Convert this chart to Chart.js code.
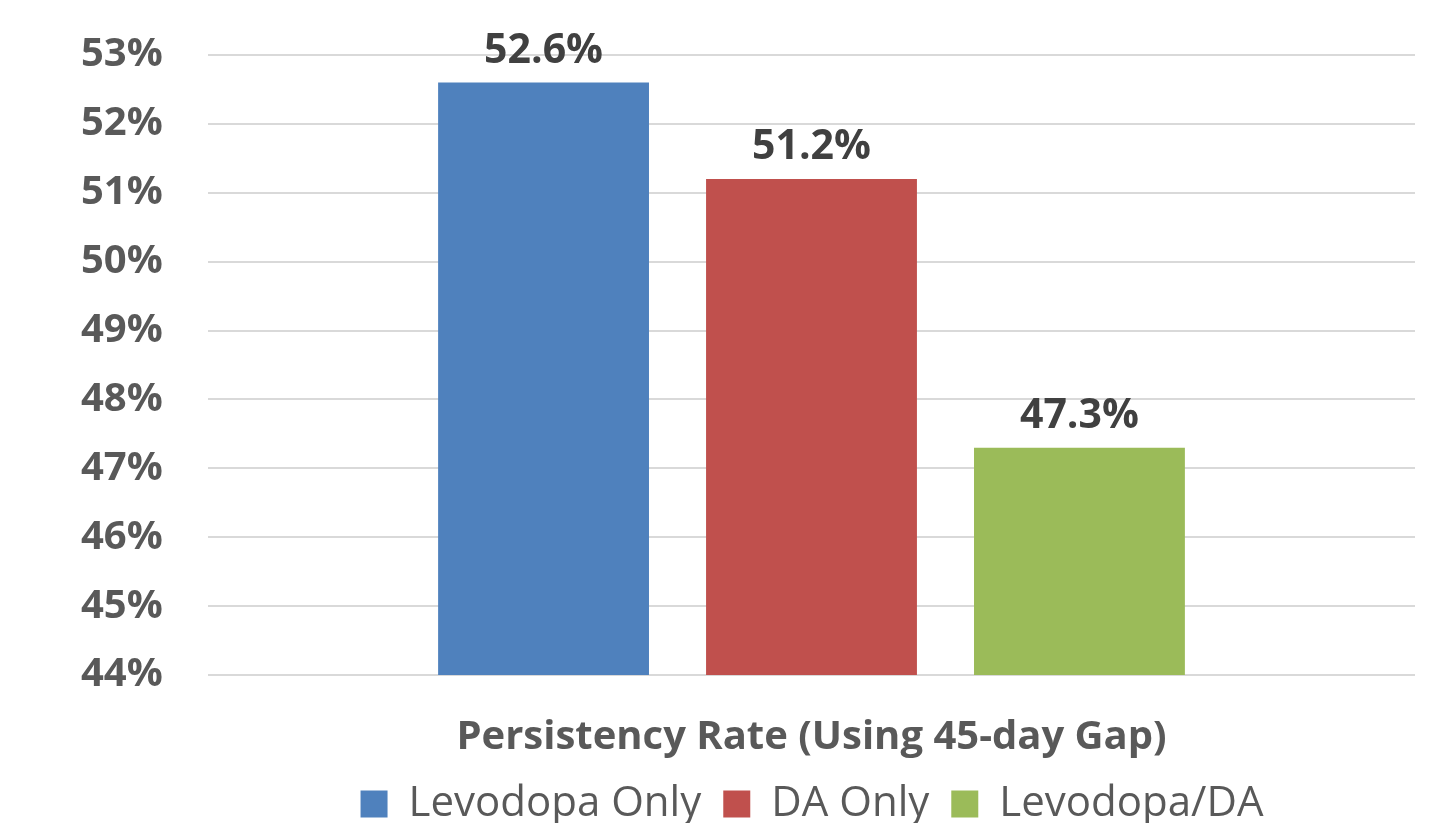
<!DOCTYPE html>
<html>
<head>
<meta charset="utf-8">
<script src="https://cdn.jsdelivr.net/npm/chart.js@4.4.1/dist/chart.umd.min.js"></script>
<style>
    html, body { margin: 0; padding: 0; background: #ffffff; }
    #wrap { width: 1444px; height: 823px; }
</style>
</head>
<body>
<div id="wrap"><canvas id="chart" width="1444" height="823"></canvas></div>
<script>
var categories = ['Persistency Rate (Using 45-day Gap)'];
var seriesNames = ['Levodopa Only', 'DA Only', 'Levodopa/DA'];
var levodopaOnly = [52.6];
var daOnly = [51.2];
var levodopaDa = [47.3];
var seriesColors = ['#4F81BD', '#C0504D', '#9BBB59'];

var FONT = "'Open Sans', 'DejaVu Sans', sans-serif";

// value labels above each bar
var barLabels = {
    id: 'barLabels',
    afterDatasetsDraw: function(chart) {
        var ctx = chart.ctx;
        ctx.save();
        ctx.font = 'bold 41px ' + FONT;
        ctx.fillStyle = '#404040';
        ctx.textAlign = 'center';
        ctx.textBaseline = 'bottom';
        chart.data.datasets.forEach(function(ds, i) {
            var meta = chart.getDatasetMeta(i);
            meta.data.forEach(function(bar, j) {
                ctx.fillText(ds.data[j].toFixed(1) + '%', bar.x, bar.y - 11);
            });
        });
        ctx.restore();
    }
};

// centre the legend under the plot area instead of the whole canvas
var legendSpan = {
    id: 'legendSpan',
    afterLayout: function(chart) {
        chart.legend.left = 180;
        chart.legend.right = 1444;
    }
};

var ctx = document.getElementById('chart');
var chart = new Chart(ctx, {
    type: 'bar',
    data: {
        labels: categories,
        datasets: [
            { label: seriesNames[0], data: levodopaOnly, backgroundColor: seriesColors[0] },
            { label: seriesNames[1], data: daOnly, backgroundColor: seriesColors[1] },
            { label: seriesNames[2], data: levodopaDa, backgroundColor: seriesColors[2] }
        ]
    },
    options: {
        responsive: false,
        animation: false,
        categoryPercentage: 0.666,
        barPercentage: 0.787,
        layout: { padding: { left: 81, right: 29, top: 55, bottom: -12 } },
        plugins: {
            tooltip: { enabled: false },
            legend: {
                position: 'bottom',
                labels: {
                    font: { family: FONT, size: 42 },
                    color: '#595959',
                    boxWidth: 27,
                    boxHeight: 27,
                    padding: 22
                }
            }
        },
        scales: {
            x: {
                grid: { display: false, drawTicks: false },
                border: { display: false },
                afterFit: function(scale) { scale.height = 86; },
                ticks: {
                    font: { family: FONT, size: 40, weight: 'bold', lineHeight: 1 },
                    color: '#595959',
                    padding: 43
                }
            },
            y: {
                min: 44,
                max: 53,
                border: { display: false },
                grid: { color: '#d9d9d9', lineWidth: 2, drawTicks: false },
                // fixed gutter so the labels sit well left of the grid
                afterFit: function(scale) { scale.width = 127; },
                ticks: {
                    stepSize: 1,
                    crossAlign: 'far',
                    padding: 0,
                    font: { family: FONT, size: 40, weight: 'bold' },
                    color: '#595959',
                    callback: function(v) { return v + '%'; }
                }
            }
        }
    },
    plugins: [barLabels, legendSpan]
});
</script>
</body>
</html>
